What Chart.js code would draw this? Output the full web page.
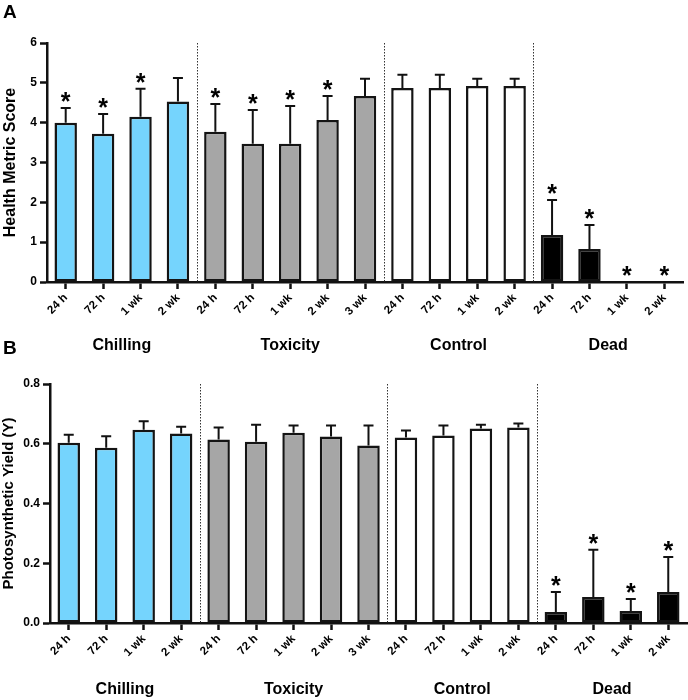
<!DOCTYPE html>
<html>
<head>
<meta charset="utf-8">
<script src="https://cdn.jsdelivr.net/npm/chart.js@4"></script>
<style>
  body { margin: 0; background: #fff; }
  #wrap { position: relative; width: 688px; height: 700px; }
  canvas { position: absolute; left: 0; }
  #chart-a { top: 0; }
  #chart-b { top: 335px; }
</style>
</head>
<body>
<div id="wrap">
  <canvas id="chart-a" width="688" height="365"></canvas>
  <canvas id="chart-b" width="688" height="365"></canvas>
</div>
<script>
// Categories
const timeLabels = ['24 h', '72 h', '1 wk', '2 wk',
                    '24 h', '72 h', '1 wk', '2 wk', '3 wk',
                    '24 h', '72 h', '1 wk', '2 wk',
                    '24 h', '72 h', '1 wk', '2 wk'];
const groupNames = ['Chilling', 'Toxicity', 'Control', 'Dead'];
const groupSizes = [4, 5, 4, 4];
const groupColors = ['#75d4fd', '#a6a6a6', '#ffffff', '#000000'];

// Panel A: health metric score (mean, upper error, significance)
const healthMeans  = [4.00, 3.72, 4.15, 4.53,  3.77, 3.47, 3.47, 4.07, 4.67,  4.87, 4.87, 4.92, 4.92,  1.18, 0.83, 0, 0];
const healthErrors = [0.37, 0.50, 0.70, 0.59,  0.70, 0.85, 0.95, 0.60, 0.43,  0.33, 0.33, 0.18, 0.18,  0.88, 0.60, 0, 0];
const healthStars  = [1, 1, 1, 0,  1, 1, 1, 1, 0,  0, 0, 0, 0,  1, 1, 1, 1];

// Panel B: photosynthetic yield
const yieldMeans  = [0.603, 0.587, 0.647, 0.634,  0.614, 0.607, 0.637, 0.624, 0.594,  0.621, 0.628, 0.651, 0.654,  0.037, 0.087, 0.040, 0.104];
const yieldErrors = [0.027, 0.038, 0.028, 0.023,  0.040, 0.057, 0.024, 0.037, 0.067,  0.023, 0.033, 0.013, 0.014,  0.067, 0.158, 0.040, 0.117];
const yieldStars  = [0, 0, 0, 0,  0, 0, 0, 0, 0,  0, 0, 0, 0,  1, 1, 1, 1];

Chart.defaults.font.family = "'Liberation Sans', Arial, Helvetica, sans-serif";
Chart.defaults.color = '#000';

// colour of every bar, taken from its group
const barColors = [];
groupSizes.forEach((n, g) => { for (let i = 0; i < n; i++) barColors.push(groupColors[g]); });

// error bars, asterisks, dotted separators, group names, panel letter
const extras = {
    id: 'extras',
    afterDatasetsDraw(chart, args, opts) {
        const ctx = chart.ctx;
        const area = chart.chartArea;
        const xs = chart.scales.x, ys = chart.scales.y;
        ctx.save();

        // dotted separators between groups
        ctx.strokeStyle = '#333';
        ctx.lineWidth = 1;
        ctx.setLineDash([1.5, 1.5]);
        let idx = 0;
        groupSizes.slice(0, -1).forEach(n => {
            idx += n;
            const sx = Math.round((xs.getPixelForValue(idx - 1) + xs.getPixelForValue(idx)) / 2) + 0.5;
            ctx.beginPath();
            ctx.moveTo(sx, area.top);
            ctx.lineTo(sx, area.bottom);
            ctx.stroke();
        });
        ctx.setLineDash([]);

        // error bars + asterisks
        ctx.strokeStyle = '#111';
        ctx.lineWidth = 2;
        ctx.fillStyle = '#000';
        ctx.textAlign = 'center';
        ctx.textBaseline = 'alphabetic';
        ctx.font = "bold 25px 'Liberation Sans', Arial, sans-serif";
        opts.means.forEach((m, i) => {
            const cx = xs.getPixelForValue(i);
            const y0 = ys.getPixelForValue(m);
            const y1 = ys.getPixelForValue(m + opts.errors[i]);
            if (opts.errors[i] > 0) {
                ctx.beginPath();
                ctx.moveTo(cx, y0);
                ctx.lineTo(cx, y1);
                ctx.moveTo(cx - 5, y1);
                ctx.lineTo(cx + 5, y1);
                ctx.stroke();
            }
            if (opts.stars[i]) ctx.fillText('*', cx, y1 + 2);
        });

        // group names under the axis
        ctx.font = "bold 16px 'Liberation Sans', Arial, sans-serif";
        ctx.textBaseline = 'middle';
        let start = 0;
        groupSizes.forEach((n, g) => {
            const gx = (xs.getPixelForValue(start) + xs.getPixelForValue(start + n - 1)) / 2;
            ctx.fillText(groupNames[g], gx, opts.groupY);
            start += n;
        });

        // panel letter
        ctx.font = "bold 19px 'Liberation Sans', Arial, sans-serif";
        ctx.textAlign = 'left';
        ctx.textBaseline = 'alphabetic';
        ctx.fillText(opts.letter, 3, opts.letterY);
        ctx.restore();
    }
};

function makeChart(id, cfg) {
    const tickFont = { size: 11.5, weight: 'bold' };
    return new Chart(document.getElementById(id).getContext('2d'), {
        type: 'bar',
        data: {
            labels: timeLabels,
            datasets: [{
                data: cfg.means,
                backgroundColor: barColors,
                borderColor: '#141414',
                borderWidth: 2.5,
                borderSkipped: false,
                barPercentage: 0.6,
                categoryPercentage: 1
            }]
        },
        options: {
            responsive: false,
            animation: false,
            devicePixelRatio: 1,
            layout: { padding: { top: cfg.top, right: cfg.right, bottom: 0, left: 0 } },
            plugins: {
                legend: { display: false },
                tooltip: { enabled: false },
                extras: {
                    means: cfg.means, errors: cfg.errors, stars: cfg.stars,
                    letter: cfg.letter, letterY: cfg.letterY, groupY: cfg.groupY
                }
            },
            scales: {
                x: {
                    afterFit: s => { s.height = cfg.xHeight; },
                    grid: { offset: false, drawOnChartArea: false, drawTicks: true, tickLength: 7, tickColor: '#111', tickWidth: 2.5 },
                    border: { display: true, color: '#111', width: 2.5 },
                    ticks: { autoSkip: false, maxRotation: 45, minRotation: 45, padding: 2, font: tickFont, color: '#000' }
                },
                y: {
                    min: 0,
                    max: cfg.max,
                    afterFit: s => { s.width = cfg.yWidth; },
                    grid: { drawOnChartArea: false, drawTicks: true, tickLength: 7, tickColor: '#111', tickWidth: 2.5 },
                    border: { display: true, color: '#111', width: 2.5 },
                    ticks: { stepSize: cfg.step, padding: 3, font: { size: 12, weight: 'bold' }, color: '#000', callback: cfg.fmt },
                    title: { display: true, text: cfg.title, color: '#000', padding: { top: cfg.titlePad, bottom: 0 },
                             font: { size: cfg.titleSize, weight: 'bold' } }
                }
            }
        },
        plugins: [extras]
    });
}

makeChart('chart-a', {
    means: healthMeans, errors: healthErrors, stars: healthStars,
    max: 6, step: 1, fmt: v => v.toFixed(0),
    title: 'Health Metric Score', titleSize: 16, titlePad: 1,
    top: 43, right: 5, xHeight: 83, yWidth: 47,
    letter: 'A', letterY: 18, groupY: 346
});

makeChart('chart-b', {
    means: yieldMeans, errors: yieldErrors, stars: yieldStars,
    max: 0.8, step: 0.2, fmt: v => v.toFixed(1),
    title: 'Photosynthetic Yield (Y)', titleSize: 15, titlePad: 0,
    top: 49, right: 1, xHeight: 77, yWidth: 50,
    letter: 'B', letterY: 19, groupY: 355
});
</script>
</body>
</html>
